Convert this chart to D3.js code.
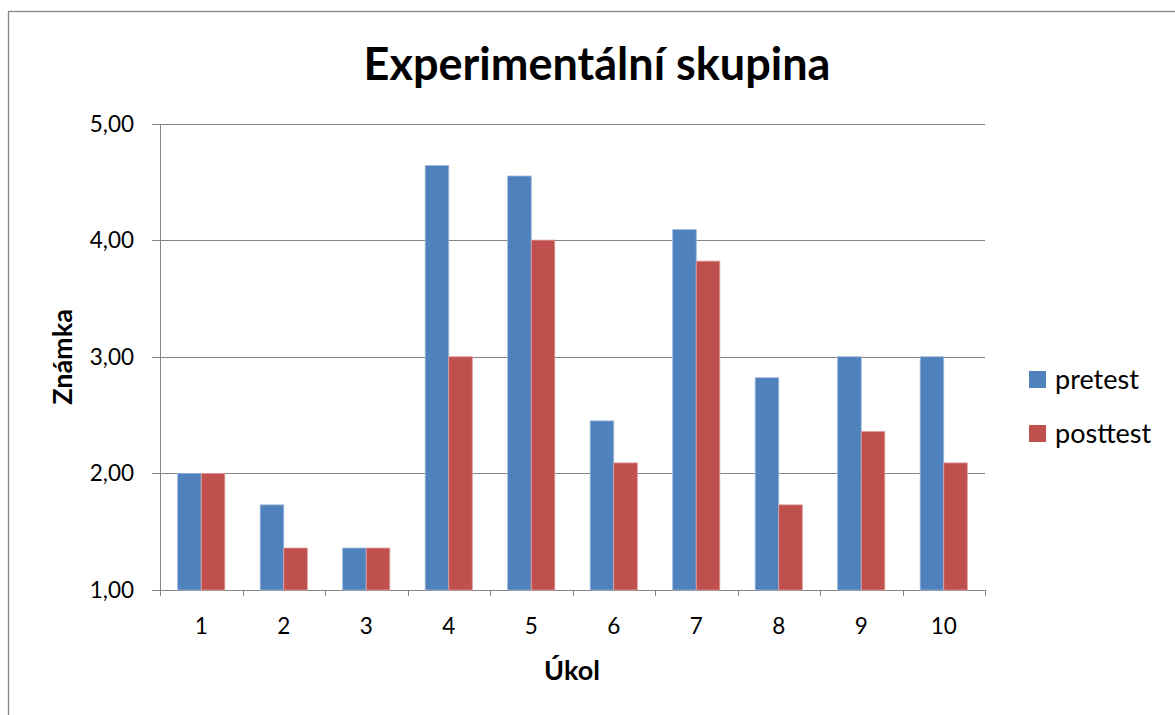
<!DOCTYPE html>
<html lang="cs">
<head>
<meta charset="UTF-8">
<title>Experimentální skupina</title>
<style>
  body { margin: 0; background: #fff; }
  svg { display: block; font-family: Lato, "Open Sans", sans-serif; }
  .grid line { stroke: #868686; stroke-width: 1.5; shape-rendering: crispEdges; }
  .tick-label { font-size: 22.5px; fill: #000; }
</style>
<script src="https://cdnjs.cloudflare.com/ajax/libs/d3/7.8.5/d3.min.js"></script>
</head>
<body>
<script>
// data
var categories = ["1", "2", "3", "4", "5", "6", "7", "8", "9", "10"];
var pretest  = [2.00, 1.73, 1.36, 4.64, 4.55, 2.45, 4.09, 2.82, 3.00, 3.00];
var posttest = [2.00, 1.36, 1.36, 3.00, 4.00, 2.09, 3.82, 1.73, 2.36, 2.09];
var seriesNames = ["pretest", "posttest"];
var colors = ["#4F81BD", "#C0504D"];
var yTicks = [1, 2, 3, 4, 5];

const W = 1175, H = 715;
const pL = 160, pR = 985, pT = 123.5, pB = 590;

const svg = d3.select("body").append("svg")
    .attr("width", W).attr("height", H);

// chart area border (runs off right/bottom)
svg.append("rect")
   .attr("x", 8.5).attr("y", 11.5)
   .attr("width", 1200).attr("height", 720)
   .attr("fill", "none").attr("stroke", "#868686").attr("stroke-width", 1.3);

var x0 = d3.scaleBand().domain(categories).range([pL, pR])
           .paddingInner(1.5 / 3.5).paddingOuter(0.75 / 3.5);
var x1 = d3.scaleBand().domain(seriesNames).range([0, x0.bandwidth()]);
var y = d3.scaleLinear().domain([1, 5]).range([pB, pT]);

// gridlines + y ticks
var grid = svg.append("g").attr("class", "grid");
grid.selectAll("line.h").data(yTicks).enter().append("line")
    .attr("x1", pL - 8).attr("x2", pR)
    .attr("y1", d => Math.round(y(d)) + 0.5).attr("y2", d => Math.round(y(d)) + 0.5);

svg.selectAll("text.ytl").data(yTicks).enter().append("text")
   .attr("class", "tick-label")
   .attr("x", pL - 26).attr("y", d => y(d))
   .attr("dy", "0.36em").attr("text-anchor", "end")
   .text(d => d3.format(".2f")(d).replace(".", ","));

// bars
var data = categories.map((c, i) => ({ cat: c, vals: [pretest[i], posttest[i]] }));
var groups = svg.append("g").selectAll("g").data(data).enter().append("g")
    .attr("transform", d => "translate(" + x0(d.cat) + ",0)");
groups.selectAll("rect").data(d => d.vals.map((v, j) => ({ s: seriesNames[j], v: v, j: j })))
    .enter().append("rect")
    .attr("x", d => x1(d.s))
    .attr("width", x1.bandwidth())
    .attr("y", d => y(d.v))
    .attr("height", d => y(1) - y(d.v))
    .attr("fill", d => colors[d.j])
    .attr("stroke", d => d.j === 0 ? "#9DB8DC" : "#E0A09E")
    .attr("stroke-width", 0.8);

// axes lines
grid.append("line")
    .attr("x1", pL + 0.5).attr("x2", pL + 0.5)
    .attr("y1", pT).attr("y2", pB + 6);
grid.append("line")
    .attr("x1", pL - 8).attr("x2", pR)
    .attr("y1", pB + 0.5).attr("y2", pB + 0.5);
var step = x0.step();
grid.selectAll("line.xt").data(d3.range(categories.length + 1)).enter().append("line")
    .attr("x1", i => Math.round(pL + i * step) + 0.5)
    .attr("x2", i => Math.round(pL + i * step) + 0.5)
    .attr("y1", pB).attr("y2", pB + 6);

svg.selectAll("text.xtl").data(categories).enter().append("text")
   .attr("class", "tick-label")
   .attr("x", d => x0(d) + x0.bandwidth() / 2)
   .attr("y", 634).attr("text-anchor", "middle")
   .text(d => d);

// title
svg.append("text")
   .attr("x", 597).attr("y", 80)
   .attr("text-anchor", "middle")
   .attr("font-size", 45).attr("font-weight", "bold")
   .text("Experimentální skupina");

// axis titles
svg.append("text")
   .attr("x", 572).attr("y", 680)
   .attr("text-anchor", "middle")
   .attr("font-size", 27).attr("font-weight", "bold")
   .text("Úkol");
svg.append("text")
   .attr("transform", "translate(72,357) rotate(-90)")
   .attr("text-anchor", "middle")
   .attr("font-size", 27).attr("font-weight", "bold")
   .text("Známka");

// legend
var legend = svg.append("g").selectAll("g").data(seriesNames).enter().append("g")
    .attr("transform", (d, i) => "translate(1029," + (371 + i * 54) + ")");
legend.append("rect").attr("width", 17).attr("height", 17)
      .attr("fill", (d, i) => colors[i]);
legend.append("text").attr("x", 26).attr("y", 18)
      .attr("font-size", 27).text(d => d);
</script>
</body>
</html>
